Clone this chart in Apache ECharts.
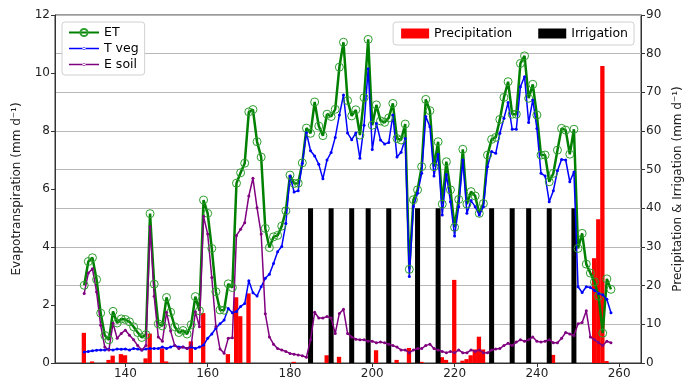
<!DOCTYPE html>
<html>
<head>
<meta charset="utf-8">
<script src="https://cdn.jsdelivr.net/npm/echarts@6/dist/echarts.min.js"></script>
<style>html,body{margin:0;padding:0;background:#fff}#c{width:696px;height:385px}</style>
</head>
<body>
<div id="c"></div>
<script>
const firstDay = 130;
const etValues = [2.68,3.5,3.63,2.88,1.72,0.95,0.8,1.78,1.38,1.52,
1.5,1.42,1.25,1.05,0.88,0.98,5.15,2.72,1.35,1.28,
2.26,1.75,1.25,1.05,1.12,1.0,1.32,2.29,1.8,5.62,
5.16,3.95,2.46,1.83,1.82,2.73,2.6,6.2,6.56,6.89,
8.66,8.74,7.63,7.1,4.64,3.98,4.35,4.4,4.72,5.25,
6.48,6.19,6.2,6.9,8.1,7.92,9.0,8.17,7.84,8.58,
8.5,8.75,10.2,11.06,9.05,8.52,8.73,7.86,9.15,11.16,
8.2,8.9,8.35,8.3,8.45,8.95,7.74,7.69,8.24,3.23,
5.63,5.97,6.77,9.09,8.7,6.77,7.63,5.48,6.94,5.97,
4.68,5.64,7.37,5.48,5.91,5.76,5.16,5.5,7.17,7.71,
7.78,8.4,9.16,9.7,8.58,8.58,10.33,10.59,9.13,9.61,
8.55,7.17,7.17,6.25,6.54,7.34,8.09,8.03,7.2,8.06,
3.95,4.47,3.41,3.1,2.8,2.3,1.03,2.9,2.54];
const tvegValues = [0.38,0.4,0.42,0.44,0.45,0.45,0.47,0.45,0.48,0.47,
0.48,0.45,0.5,0.48,0.45,0.48,0.5,0.5,0.5,0.55,
0.5,0.55,0.6,0.55,0.55,0.5,0.55,0.5,0.55,0.62,
0.85,1.0,1.2,1.35,1.48,1.88,1.73,1.78,1.95,2.05,
2.84,2.42,2.31,2.63,2.92,3.06,3.43,3.84,4.02,4.81,
6.45,5.9,5.94,6.89,7.94,7.32,7.14,6.85,6.35,7.0,
7.26,7.78,8.55,9.24,7.93,7.7,7.93,7.06,8.2,10.15,
7.36,8.26,7.69,7.55,7.6,8.55,7.1,7.27,7.74,2.98,
5.4,5.85,6.54,8.5,8.15,6.45,7.2,5.1,6.5,5.56,
4.38,5.39,7.0,5.16,5.6,5.39,5.1,5.39,6.77,7.29,
7.23,7.92,8.44,8.98,8.06,8.06,9.53,9.87,8.29,9.07,
8.09,6.54,6.45,5.56,5.94,6.63,7.02,7.0,6.25,6.59,
2.63,2.43,2.63,2.6,2.5,2.4,2.35,2.2,1.73];
const esoilValues = [2.4,3.1,3.25,2.45,1.3,0.55,0.45,1.37,0.85,1.02,
1.13,0.96,0.8,0.6,0.45,0.6,4.7,2.3,0.9,0.75,
1.75,1.1,0.6,0.5,0.55,0.5,0.6,1.77,1.25,5.05,
4.45,2.95,1.26,0.48,0.34,0.85,0.87,4.4,4.61,4.84,
5.76,6.37,5.35,4.45,1.7,0.9,0.65,0.5,0.45,0.4,
0.33,0.3,0.28,0.25,0.2,0.8,1.75,1.55,1.55,1.6,
1.55,1.02,1.71,1.85,1.02,0.9,0.82,0.8,0.8,0.75,
0.75,0.7,0.72,0.7,0.65,0.6,0.55,0.45,0.45,0.35,
0.45,0.5,0.5,0.6,0.65,0.5,0.45,0.4,0.35,0.4,
0.35,0.45,0.35,0.35,0.45,0.4,0.45,0.35,0.35,0.45,
0.48,0.5,0.6,0.68,0.6,0.72,0.8,0.75,0.8,0.9,
0.75,0.72,0.75,0.8,0.7,0.7,0.85,1.05,1.0,0.95,
1.35,1.4,1.8,0.9,0.8,0.7,0.6,0.75,0.7];
const precipDays = [130,132,136,137,139,140,145,146,149,150,156,159,165,167,168,170,181,189,192,195,201,206,209,212,217,218,220,222,223,224,225,226,227,244,254,255,256,257];
const precipValues = [7.8,0.4,0.8,1.9,2.3,2.0,1.2,7.6,3.8,0.4,5.6,12.9,2.3,17.0,12.1,18.0,0.3,2.0,1.6,0.3,3.3,0.8,3.9,0.3,1.5,0.8,21.5,0.6,1.0,2.0,3.5,6.8,3.5,2.1,27.1,37.2,76.8,0.5];
const irrigDays = [185,190,195,199,204,211,216,229,234,238,243,249];
const irrigValues = [40,40,40,40,40,40,40,40,40,40,40,40];
const xTicks = [140,160,180,200,220,240,260];

const days = etValues.map((v,i)=>firstDay+i);
const pair = arr => arr.map((v,i)=>[days[i], v]);
const font = 'DejaVu Sans';
const dotLineIcon = 'path://M0,0h0.05v0.05h-0.05z M0,3.8h30v1.4h-30z M15,2.9a1.6,1.6 0 1,0 0.001,0z M29.95,8.95h0.05v0.05h-0.05z';
const chart = echarts.init(document.getElementById('c'), null, {renderer:'canvas'});
chart.setOption({
  animation:false,
  backgroundColor:'#fff',
  grid:{left:55,right:55,top:15,bottom:22,show:true,borderColor:'#333',borderWidth:1,backgroundColor:'transparent'},
  legend:[
    {data:['ET',{name:'T veg',icon:dotLineIcon},{name:'E soil',icon:dotLineIcon}],left:62,top:22,orient:'vertical',itemWidth:30,itemHeight:9,itemGap:3,
     backgroundColor:'#fff',borderColor:'#d0d0d0',borderWidth:1,borderRadius:3,padding:[4,6,4,6],
     textStyle:{fontFamily:font,fontSize:12.5,color:'#000'}},
    {data:[{name:'Precipitation',icon:'rect'},{name:'Irrigation',icon:'rect'}],right:62,top:22,orient:'horizontal',
     itemWidth:28,itemHeight:10,itemGap:26,backgroundColor:'#fff',borderColor:'#d0d0d0',borderWidth:1,borderRadius:3,padding:[5,6,5,8],
     textStyle:{fontFamily:font,fontSize:12.5,color:'#000'}}
  ],
  xAxis:{type:'value',min:122.9,max:265.3,
    axisLine:{show:true,lineStyle:{color:'#333'}},
    axisTick:{show:true,length:4,customValues:xTicks,lineStyle:{color:'#333'}},
    axisLabel:{customValues:xTicks,fontFamily:font,fontSize:12,color:'#222',margin:5},
    splitLine:{show:false}},
  yAxis:[
    {type:'value',min:0,max:12,interval:2,position:'left',
     name:'Evapotranspiration (mm d\u207B\u00B9)',nameLocation:'middle',nameRotate:90,nameGap:32,
     nameTextStyle:{fontFamily:font,fontSize:12,color:'#222'},
     axisLine:{show:true,lineStyle:{color:'#333'}},axisTick:{show:true,length:4,lineStyle:{color:'#333'}},
     axisLabel:{fontFamily:font,fontSize:12,color:'#222',margin:5},splitLine:{show:false}},
    {type:'value',min:0,max:90,interval:10,position:'right',
     name:'Precipitation & Irrigation (mm d\u207B\u00B9)',nameLocation:'middle',nameRotate:90,nameGap:30,
     nameTextStyle:{fontFamily:font,fontSize:12,color:'#222'},
     axisLine:{show:true,lineStyle:{color:'#333'}},axisTick:{show:true,length:4,lineStyle:{color:'#333'}},
     axisLabel:{fontFamily:font,fontSize:12,color:'#222',margin:5},
     splitLine:{show:true,lineStyle:{color:'#b8b8b8',width:1}}}
  ],
  series:[
    {name:'ET',type:'line',data:pair(etValues),symbol:'circle',symbolSize:8,
     lineStyle:{color:'#008000',width:2.5},itemStyle:{color:'rgba(0,0,0,0)',borderColor:'#2e9e2e',borderWidth:1}},
    {name:'T veg',type:'line',data:pair(tvegValues),symbol:'circle',symbolSize:3,
     lineStyle:{color:'#0000ff',width:1.5},itemStyle:{color:'#0000ff'}},
    {name:'E soil',type:'line',data:pair(esoilValues),symbol:'circle',symbolSize:3,
     lineStyle:{color:'#800080',width:1.5},itemStyle:{color:'#800080'}},
    {name:'Precipitation',type:'bar',yAxisIndex:1,barWidth:4.3,barGap:'-100%',
     data:precipDays.map((d,i)=>[d,precipValues[i]]),itemStyle:{color:'#ff0000'}},
    {name:'Irrigation',type:'bar',yAxisIndex:1,barWidth:5,barGap:'-100%',
     data:irrigDays.map((d,i)=>[d,irrigValues[i]]),itemStyle:{color:'#000000'}}
  ]
});
</script>
</body>
</html>
